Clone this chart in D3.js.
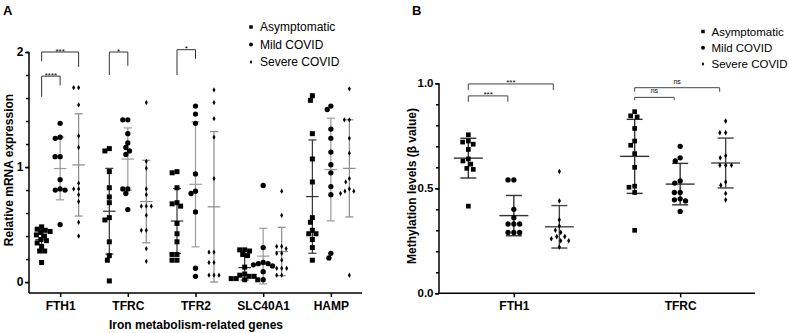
<!DOCTYPE html>
<html><head><meta charset="utf-8">
<script src="https://cdn.jsdelivr.net/npm/d3@7"></script>
<style>
body{margin:0;background:#fff}
svg{display:block}
text{font-family:"Liberation Sans",Arial,sans-serif;fill:#000}
</style>
</head><body>
<svg id="c" width="789" height="333"></svg>
<script>
// ---------- DATA ----------
const groups = ["Asymptomatic", "Mild COVID", "Severe COVID"];
const genesA = ["FTH1", "TFRC", "TFR2", "SLC40A1", "HAMP"];
const genesB = ["FTH1", "TFRC"];
const yTicksA = [0, 1, 2];
const yTicksB = [0, 0.5, 1.0];

// Panel A: relative mRNA expression
const asymFTH1 = [0.48,0.46,0.45,0.44,0.43,0.41,0.40,0.37,0.36,0.34,0.31,0.27,0.27,0.17];
const mildFTH1 = [1.38,1.26,1.25,1.09,1.09,0.89,0.81,0.80,0.80,0.50];
const sevFTH1  = [1.69,1.69,1.54,1.27,1.17,0.86,0.81,0.81,0.76,0.70,0.52,0.40];
const asymTFRC = [1.16,1.14,0.96,0.82,0.74,0.69,0.56,0.54,0.35,0.23,0.19,0.01];
const mildTFRC = [1.41,1.41,1.29,1.21,1.17,1.14,1.11,0.81,0.81,0.77,0.63];
const sevTFRC  = [1.56,1.05,0.99,0.81,0.76,0.66,0.66,0.66,0.58,0.45,0.45,0.29,0.18];
const asymTFR2 = [0.96,0.95,0.82,0.69,0.68,0.66,0.51,0.42,0.35,0.24,0.24,0.19,0.19];
const mildTFR2 = [1.53,1.46,1.38,0.94,0.79,0.77,0.61,0.12,0.05];
const sevTFR2  = [1.67,1.56,1.42,1.26,0.90,0.26,0.26,0.17,0.17,0.06,0.06,0.06];
const asymSLC  = [0.28,0.28,0.27,0.24,0.23,0.13,0.07,0.06,0.05,0.05,0.03,0.03,0.02,0.02];
const mildSLC  = [0.84,0.30,0.17,0.16,0.16,0.15,0.14,0.09,0.02];
const sevSLC   = [0.79,0.58,0.31,0.31,0.29,0.25,0.25,0.19,0.12,0.12,0.12,0.06,0.06];
const asymHAMP = [1.62,1.58,1.29,1.07,0.87,0.56,0.52,0.45,0.42,0.42,0.37,0.30,0.19];
const mildHAMP = [1.53,1.50,1.33,1.25,1.13,1.02,0.95,0.83,0.76,0.25,0.21];
const sevHAMP  = [1.68,1.41,1.41,1.25,1.12,0.90,0.87,0.81,0.79,0.79,0.77,0.06];

// Panel B: methylation beta values
const asymFTH1B = [0.755,0.725,0.72,0.71,0.685,0.64,0.63,0.615,0.595,0.59,0.415];
const mildFTH1B = [0.54,0.54,0.40,0.36,0.33,0.33,0.33,0.29,0.29,0.29];
const sevFTH1B  = [0.58,0.44,0.35,0.32,0.30,0.29,0.27,0.27,0.26,0.25,0.25,0.22];
const asymTFRCB = [0.865,0.845,0.84,0.785,0.725,0.705,0.665,0.60,0.51,0.505,0.48,0.30];
const mildTFRCB = [0.70,0.645,0.63,0.535,0.525,0.48,0.48,0.45,0.445,0.44,0.39];
const sevTFRCB  = [0.82,0.765,0.765,0.655,0.645,0.61,0.61,0.61,0.53,0.515,0.475,0.445];

// significance annotations (levels in data units)
const sigA = [
  {gene:"FTH1", a:0, b:1, top:1.79, la:1.61, lb:1.71, label:"****"},
  {gene:"FTH1", a:0, b:2, top:2.00, la:1.92, lb:1.87, label:"***"},
  {gene:"TFRC", a:0, b:1, top:2.00, la:1.80, lb:1.88, label:"*"},
  {gene:"TFR2", a:0, b:1, top:2.02, la:1.80, lb:1.94, label:"*"}
];
const sigB = [
  {gene:"FTH1", a:0, b:1, top:0.940, la:0.912, lb:0.912, label:"***"},
  {gene:"FTH1", a:0, b:2, top:0.997, la:0.968, lb:0.968, label:"***"},
  {gene:"TFRC", a:0, b:1, top:0.933, la:0.920, lb:0.920, label:"ns"},
  {gene:"TFRC", a:0, b:2, top:0.979, la:0.960, lb:0.960, label:"ns"}
];

const tableA = [
  {gene:"FTH1", sets:[asymFTH1, mildFTH1, sevFTH1]},
  {gene:"TFRC", sets:[asymTFRC, mildTFRC, sevTFRC]},
  {gene:"TFR2", sets:[asymTFR2, mildTFR2, sevTFR2]},
  {gene:"SLC40A1", sets:[asymSLC, mildSLC, sevSLC]},
  {gene:"HAMP", sets:[asymHAMP, mildHAMP, sevHAMP]}
];
const tableB = [
  {gene:"FTH1", sets:[asymFTH1B, mildFTH1B, sevFTH1B]},
  {gene:"TFRC", sets:[asymTFRCB, mildTFRCB, sevTFRCB]}
];

// ---------- DRAW ----------
const svg = d3.select("#c");

function swarm(vals, y, D) {
  const pts = vals.map(v => ({v, y:y(v), x:0}));
  const order = pts.slice().sort((p, q) => p.y - q.y);
  const placed = [];
  for (const p of order) {
    const iv = [];
    for (const q of placed) {
      const dy = Math.abs(q.y - p.y);
      if (dy < D) { const w = Math.sqrt(D*D - dy*dy); iv.push([q.x - w, q.x + w]); }
    }
    const cands = [0];
    iv.forEach(([a, b]) => { cands.push(a, b); });
    const ok = c => iv.every(([a, b]) => c <= a + 1e-6 || c >= b - 1e-6);
    let best = null;
    cands.filter(ok).forEach(c => {
      if (best === null || Math.abs(c) < Math.abs(best) - 1e-6 || (Math.abs(Math.abs(c) - Math.abs(best)) < 1e-6 && c < best)) best = c;
    });
    p.x = best;
    placed.push(p);
  }
  return pts;
}

const markerShapes = [d3.symbolSquare, d3.symbolCircle, d3.symbolDiamond];

function panel(opt) {
  const g = svg.append("g");
  const x = d3.scalePoint().domain(opt.genes).range(opt.xRange).padding(opt.pad);
  const off = d3.scalePoint().domain(groups).range([-opt.gOff, opt.gOff]);
  const y = d3.scaleLinear().domain(opt.yDomain).range(opt.yRange);
  const sw = opt.lw;

  // y axis
  const minor = d3.range(opt.yDomain[0] < 0 ? 0 : opt.yDomain[0], opt.yMax + 1e-9, opt.minorStep).map(v => +v.toFixed(3));
  const ay = g.append("g").attr("transform", `translate(${opt.xRange[0]},0)`)
    .call(d3.axisLeft(y).tickValues(minor).tickSize(opt.minorLen).tickFormat(""));
  ay.select(".domain").remove();
  ay.selectAll("line").attr("stroke", "#000").attr("stroke-width", sw);
  const ay2 = g.append("g").attr("transform", `translate(${opt.xRange[0]},0)`)
    .call(d3.axisLeft(y).tickValues(opt.yTicks).tickSize(opt.majorLen).tickPadding(1.5).tickFormat(opt.fmt));
  ay2.select(".domain").attr("d", `M0,${opt.yRange[0]}V${y(opt.yMax)}`).attr("stroke", "#000").attr("stroke-width", sw);
  ay2.selectAll("line").attr("stroke", "#000").attr("stroke-width", sw);
  ay2.selectAll("text").attr("font-size", opt.tickFont).attr("font-weight", "bold")
    .attr("font-family", '"Liberation Sans",Arial,sans-serif').attr("fill", "#000");

  // x axis
  const ax = g.append("g").attr("transform", `translate(0,${opt.yRange[0]})`)
    .call(d3.axisBottom(x).tickSize(4).tickPadding(4).tickSizeOuter(0));
  ax.select(".domain").attr("d", `M${opt.xRange[0]},0H${opt.xRange[1]}`).attr("stroke", "#000").attr("stroke-width", sw);
  ax.selectAll("line").attr("stroke", "#000").attr("stroke-width", sw);
  ax.selectAll("text").attr("font-size", 12).attr("font-weight", "bold")
    .attr("font-family", '"Liberation Sans",Arial,sans-serif').attr("fill", "#000");

  // data
  opt.table.forEach(row => {
    row.sets.forEach((vals, gi) => {
      const cx = x(row.gene) + off(groups[gi]);
      const m = d3.mean(vals), s = d3.deviation(vals);
      const col = opt.barColors[gi];
      const eg = g.append("g").attr("stroke", col).attr("stroke-width", opt.barW).attr("fill", "none");
      eg.append("line").attr("x1", cx).attr("x2", cx).attr("y1", y(m + s)).attr("y2", y(m - s));
      eg.append("line").attr("x1", cx - opt.capW).attr("x2", cx + opt.capW).attr("y1", y(m + s)).attr("y2", y(m + s));
      eg.append("line").attr("x1", cx - opt.capW).attr("x2", cx + opt.capW).attr("y1", y(m - s)).attr("y2", y(m - s));
      eg.append("line").attr("x1", cx - opt.meanW).attr("x2", cx + opt.meanW).attr("y1", y(m)).attr("y2", y(m));
      const pts = swarm(vals, y, opt.D);
      g.append("g").selectAll("path").data(pts).join("path")
        .attr("transform", p => `translate(${cx + p.x},${p.y})`)
        .attr("d", d3.symbol(markerShapes[gi], opt.symSize[gi]))
        .attr("fill", "#000");
    });
  });

  // significance brackets
  opt.sig.forEach(s => {
    const xa = x(s.gene) + off(groups[s.a]) + opt.insetA;
    const xb = x(s.gene) + off(groups[s.b]) + opt.insetB;
    g.append("path")
      .attr("d", `M${xa},${y(s.la)}V${y(s.top)}H${xb}V${y(s.lb)}`)
      .attr("fill", "none").attr("stroke", opt.sigColor).attr("stroke-width", 1);
    g.append("text").attr("x", (xa + xb) / 2).attr("y", y(s.top) + (s.label === "ns" ? -4 : 1.5))
      .attr("text-anchor", "middle").attr("font-size", s.label === "ns" ? 7 : 8)
      .attr("fill", s.label === "ns" ? "#555" : "#222").text(s.label);
  });

  // legend
  const lg = g.append("g");
  groups.forEach((name, i) => {
    const ly = opt.legY[i];
    lg.append("path").attr("transform", `translate(${opt.legX},${ly})`)
      .attr("d", d3.symbol(markerShapes[i], opt.legSym[i])).attr("fill", "#000");
    lg.append("text").attr("x", opt.legX + opt.legGap).attr("y", ly).attr("dy", "0.36em")
      .attr("font-size", opt.legFont).text(name);
  });
  return {x, y};
}

panel({
  genes: genesA, table: tableA, xRange: [29, 362], pad: 0.46, gOff: 18.5,
  yDomain: [-0.095, 2], yRange: [293, 52], yMax: 2, yTicks: yTicksA, minorStep: 0.2,
  fmt: d3.format("d"), majorLen: 4, minorLen: 3, tickFont: 12, lw: 1.5,
  barColors: ["#333", "#9a9a9a", "#8a8a8a"], barW: 1.2, capW: 4, meanW: 6.3, D: 5,
  symSize: [25, 22, 8], sig: sigA, insetA: 0, insetB: 0, sigColor: "#333",
  legX: 251, legGap: 9, legY: [27, 44.5, 62], legSym: [12, 12, 5], legFont: 12
});

panel({
  genes: genesB, table: tableB, xRange: [439, 755], pad: 0.45, gOff: 45.5,
  yDomain: [0, 1], yRange: [293.3, 83.3], yMax: 1, yTicks: yTicksB, minorStep: 0.1,
  fmt: d3.format(".1f"), majorLen: 4, minorLen: 3, tickFont: 11.5, lw: 1.5,
  barColors: ["#333", "#333", "#444"], barW: 1.4, capW: 8, meanW: 14.5, D: 5.8,
  symSize: [22, 22, 9], sig: sigB, insetA: 0, insetB: -6, sigColor: "#444",
  legX: 703, legGap: 8.5, legY: [31.5, 47.8, 64], legSym: [12, 12, 5], legFont: 11.5
});

// titles & labels
svg.append("text").attr("x", 3).attr("y", 15).attr("font-size", 13).attr("font-weight", "bold").text("A");
svg.append("text").attr("x", 412).attr("y", 15).attr("font-size", 13).attr("font-weight", "bold").text("B");
svg.append("text").attr("transform", "translate(13,170) rotate(-90)").attr("text-anchor", "middle")
  .attr("font-size", 12).attr("font-weight", "bold").text("Relative mRNA expression");
svg.append("text").attr("x", 196).attr("y", 329).attr("text-anchor", "middle")
  .attr("font-size", 12).attr("font-weight", "bold").text("Iron metabolism-related genes");
svg.append("text").attr("transform", "translate(416,186) rotate(-90)").attr("text-anchor", "middle")
  .attr("font-size", 12).attr("font-weight", "bold").text("Methylation levels (β value)");
</script>
</body></html>
